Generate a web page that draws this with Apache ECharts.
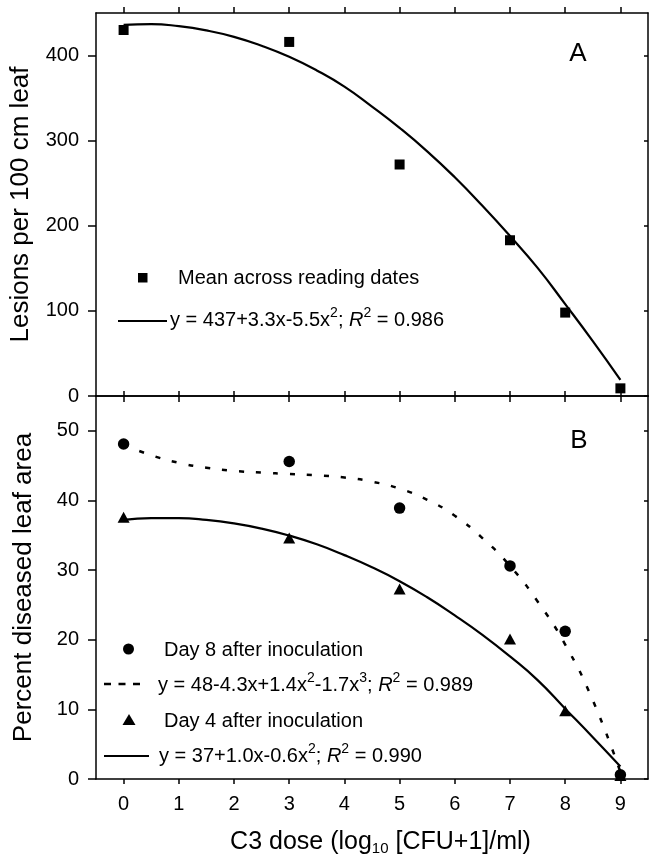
<!DOCTYPE html>
<html>
<head>
<meta charset="utf-8">
<style>
  html, body { margin: 0; padding: 0; background: #fff; }
  #chart { width: 654px; height: 863px; }
</style>
<script src="https://cdn.jsdelivr.net/npm/echarts@6/dist/echarts.min.js"></script>
</head>
<body>
<div id="chart"></div>
<script>
// ---- data ----
const doseTicks = [0, 1, 2, 3, 4, 5, 6, 7, 8, 9];
const doseX = [0, 3, 5, 7, 8, 9];
const lesionsMean = [430, 416, 272, 183, 98, 9];
const day8Percent = [48.1, 45.6, 38.9, 30.6, 21.2, 0.6];
const day4Percent = [37.6, 34.6, 27.3, 20.1, 9.8, 0.5];

// fitted curves
const fitX = [0, 0.5, 1, 1.5, 2, 2.5, 3, 3.5, 4, 4.5, 5, 5.5, 6, 6.5, 7, 7.5, 8, 8.5, 9];
const lesionsFit = [436, 437, 434.5, 429.5, 422, 411.5, 398.5, 382.5, 363.5, 340, 315, 287.5, 257, 223.5, 188, 150.5, 108, 64.5, 19];
const day8Fit = [48.0, 46.5, 45.4, 44.7, 44.25, 44.0, 43.8, 43.6, 43.3, 42.7, 41.7, 40.1, 37.8, 34.6, 30.6, 25.5, 19.3, 11.3, 1.0];
const day4Fit = [37.2, 37.45, 37.45, 37.2, 36.7, 35.95, 34.95, 33.7, 32.15, 30.4, 28.4, 26.1, 23.5, 20.7, 17.6, 14.2, 10.1, 6.0, 1.8];

const yTicksA = [0, 100, 200, 300, 400];
const yTicksB = [0, 10, 20, 30, 40, 50];

const FONT = '"Liberation Sans", Arial, Helvetica, sans-serif';
const zip = (xs, ys) => xs.map((x, i) => [x, ys[i]]);

const chart = echarts.init(document.getElementById('chart'), null, { renderer: 'canvas' });

const lineStyleAxis = { color: '#000', width: 1.5 };

function xAxisDef(grid, pos, opts) {
  return Object.assign({
    type: 'value', gridIndex: grid, position: pos,
    min: -0.5, max: 9.5,
    axisLine: { show: true, onZero: false, lineStyle: lineStyleAxis },
    axisTick: { show: true, customValues: doseTicks, inside: false, length: 6, lineStyle: { color: '#000', width: 1.5 } },
    axisLabel: { show: false },
    splitLine: { show: false }
  }, opts || {});
}

function yAxisDef(grid, pos, max, ticks, opts) {
  return Object.assign({
    type: 'value', gridIndex: grid, position: pos,
    min: 0, max: max,
    axisLine: { show: true, onZero: false, lineStyle: lineStyleAxis },
    axisTick: { show: true, customValues: ticks, inside: pos === 'right', length: pos === 'right' ? 4 : 8, lineStyle: { color: '#000', width: 1.5 } },
    axisLabel: { show: false },
    splitLine: { show: false }
  }, opts || {});
}

const supRich = {
  sup: { fontSize: 14, fontFamily: FONT, color: '#000', padding: [0, 0, 13, 0] },
  i: { fontSize: 20, fontFamily: FONT, color: '#000', fontStyle: 'italic' }
};

function legendText(x, y, text) {
  return {
    type: 'text', x: x, y: y, silent: true,
    style: {
      text: text, x: 0, y: 0, fill: '#000', fontSize: 20, fontFamily: FONT,
      align: 'left', verticalAlign: 'middle', textAlign: 'left', textVerticalAlign: 'middle',
      rich: supRich
    }
  };
}

const option = {
  backgroundColor: '#fff',
  animation: false,
  grid: [
    { left: 96, right: 6, top: 13, height: 383 },
    { left: 96, right: 6, top: 396, height: 383 }
  ],
  xAxis: [
    xAxisDef(0, 'bottom'),
    xAxisDef(0, 'top'),
    xAxisDef(1, 'bottom', {
      axisTick: { show: true, customValues: doseTicks, inside: false, length: 5, lineStyle: { color: '#000', width: 1.5 } },
      axisLabel: { show: true, customValues: doseTicks, color: '#000', fontSize: 20, fontFamily: FONT, margin: 15 },
      name: 'C3 dose (log{sub|10} [CFU+1]/ml)',
      nameLocation: 'middle',
      nameGap: 50,
      nameTextStyle: {
        color: '#000', fontSize: 25, fontFamily: FONT, padding: [0, 0, 0, 17],
        rich: { sub: { fontSize: 15, fontFamily: FONT, color: '#000', padding: [12, 0, 0, 0] } }
      }
    }),
    xAxisDef(1, 'top', {
      axisTick: { show: true, customValues: doseTicks, inside: false, length: 5, lineStyle: { color: '#000', width: 1.5 } }
    })
  ],
  yAxis: [
    yAxisDef(0, 'left', 450, yTicksA, {
      axisLabel: { show: true, customValues: yTicksA, color: '#000', fontSize: 20, fontFamily: FONT, margin: 17 },
      name: 'Lesions per 100 cm leaf', nameLocation: 'middle', nameGap: 62,
      nameTextStyle: { color: '#000', fontSize: 26, fontFamily: FONT }
    }),
    yAxisDef(0, 'right', 450, yTicksA),
    yAxisDef(1, 'left', 55, yTicksB, {
      axisLabel: { show: true, customValues: yTicksB, color: '#000', fontSize: 20, fontFamily: FONT, margin: 17 },
      name: 'Percent diseased leaf area', nameLocation: 'middle', nameGap: 59,
      nameTextStyle: { color: '#000', fontSize: 26, fontFamily: FONT }
    }),
    yAxisDef(1, 'right', 55, yTicksB)
  ],
  series: [
    {
      name: 'y = 437+3.3x-5.5x²; R² = 0.986', type: 'line', xAxisIndex: 0, yAxisIndex: 0,
      data: zip(fitX, lesionsFit), smooth: 0.5, symbol: 'none',
      lineStyle: { color: '#000', width: 2.2 }, z: 3
    },
    {
      name: 'Mean across reading dates', type: 'scatter', xAxisIndex: 0, yAxisIndex: 0,
      data: zip(doseX, lesionsMean), symbol: 'rect', symbolSize: 10,
      itemStyle: { color: '#000', opacity: 1 }, z: 4
    },
    {
      name: 'y = 48-4.3x+1.4x²-1.7x³; R² = 0.989', type: 'line', xAxisIndex: 2, yAxisIndex: 2,
      data: zip(fitX, day8Fit), smooth: 0.5, symbol: 'none',
      lineStyle: { color: '#000', width: 2.5, type: [5, 12] }, z: 3
    },
    {
      name: 'y = 37+1.0x-0.6x²; R² = 0.990', type: 'line', xAxisIndex: 2, yAxisIndex: 2,
      data: zip(fitX, day4Fit), smooth: 0.5, symbol: 'none',
      lineStyle: { color: '#000', width: 2.2 }, z: 3
    },
    {
      name: 'Day 8 after inoculation', type: 'scatter', xAxisIndex: 2, yAxisIndex: 2,
      data: zip(doseX, day8Percent), symbol: 'circle', symbolSize: 11.5,
      itemStyle: { color: '#000', opacity: 1 }, z: 4
    },
    {
      name: 'Day 4 after inoculation', type: 'scatter', xAxisIndex: 2, yAxisIndex: 2,
      data: zip(doseX, day4Percent), symbol: 'triangle', symbolSize: [12, 11],
      itemStyle: { color: '#000', opacity: 1 }, z: 4
    }
  ],
  graphic: [
    // panel letters
    { type: 'text', x: 578, y: 54, silent: true,
      style: { text: 'A', fill: '#000', fontSize: 26, fontFamily: FONT, align: 'center', verticalAlign: 'middle', textAlign: 'center', textVerticalAlign: 'middle' } },
    { type: 'text', x: 579, y: 441, silent: true,
      style: { text: 'B', fill: '#000', fontSize: 26, fontFamily: FONT, align: 'center', verticalAlign: 'middle', textAlign: 'center', textVerticalAlign: 'middle' } },

    // legend A
    { type: 'rect', silent: true, shape: { x: 138, y: 273, width: 9.5, height: 9.5 }, style: { fill: '#000' } },
    legendText(178, 278, 'Mean across reading dates'),
    { type: 'line', silent: true, shape: { x1: 118, y1: 321, x2: 167, y2: 321 }, style: { stroke: '#000', lineWidth: 2.2 } },
    legendText(170, 320, 'y = 437+3.3x-5.5x{sup|2}; {i|R}{sup|2} = 0.986'),

    // legend B
    { type: 'circle', silent: true, shape: { cx: 128.5, cy: 649, r: 5.5 }, style: { fill: '#000' } },
    legendText(164, 650, 'Day 8 after inoculation'),
    { type: 'line', silent: true, shape: { x1: 104, y1: 684, x2: 146, y2: 684 }, style: { stroke: '#000', lineWidth: 2.5, lineDash: [7, 7.5] } },
    legendText(158, 685, 'y = 48-4.3x+1.4x{sup|2}-1.7x{sup|3}; {i|R}{sup|2} = 0.989'),
    { type: 'polygon', silent: true, shape: { points: [[122.5, 725], [135.5, 725], [129, 714]] }, style: { fill: '#000' } },
    legendText(164, 721, 'Day 4 after inoculation'),
    { type: 'line', silent: true, shape: { x1: 104, y1: 756, x2: 149, y2: 756 }, style: { stroke: '#000', lineWidth: 2.2 } },
    legendText(159, 756, 'y = 37+1.0x-0.6x{sup|2}; {i|R}{sup|2} = 0.990')
  ]
};

chart.setOption(option);
</script>
</body>
</html>
